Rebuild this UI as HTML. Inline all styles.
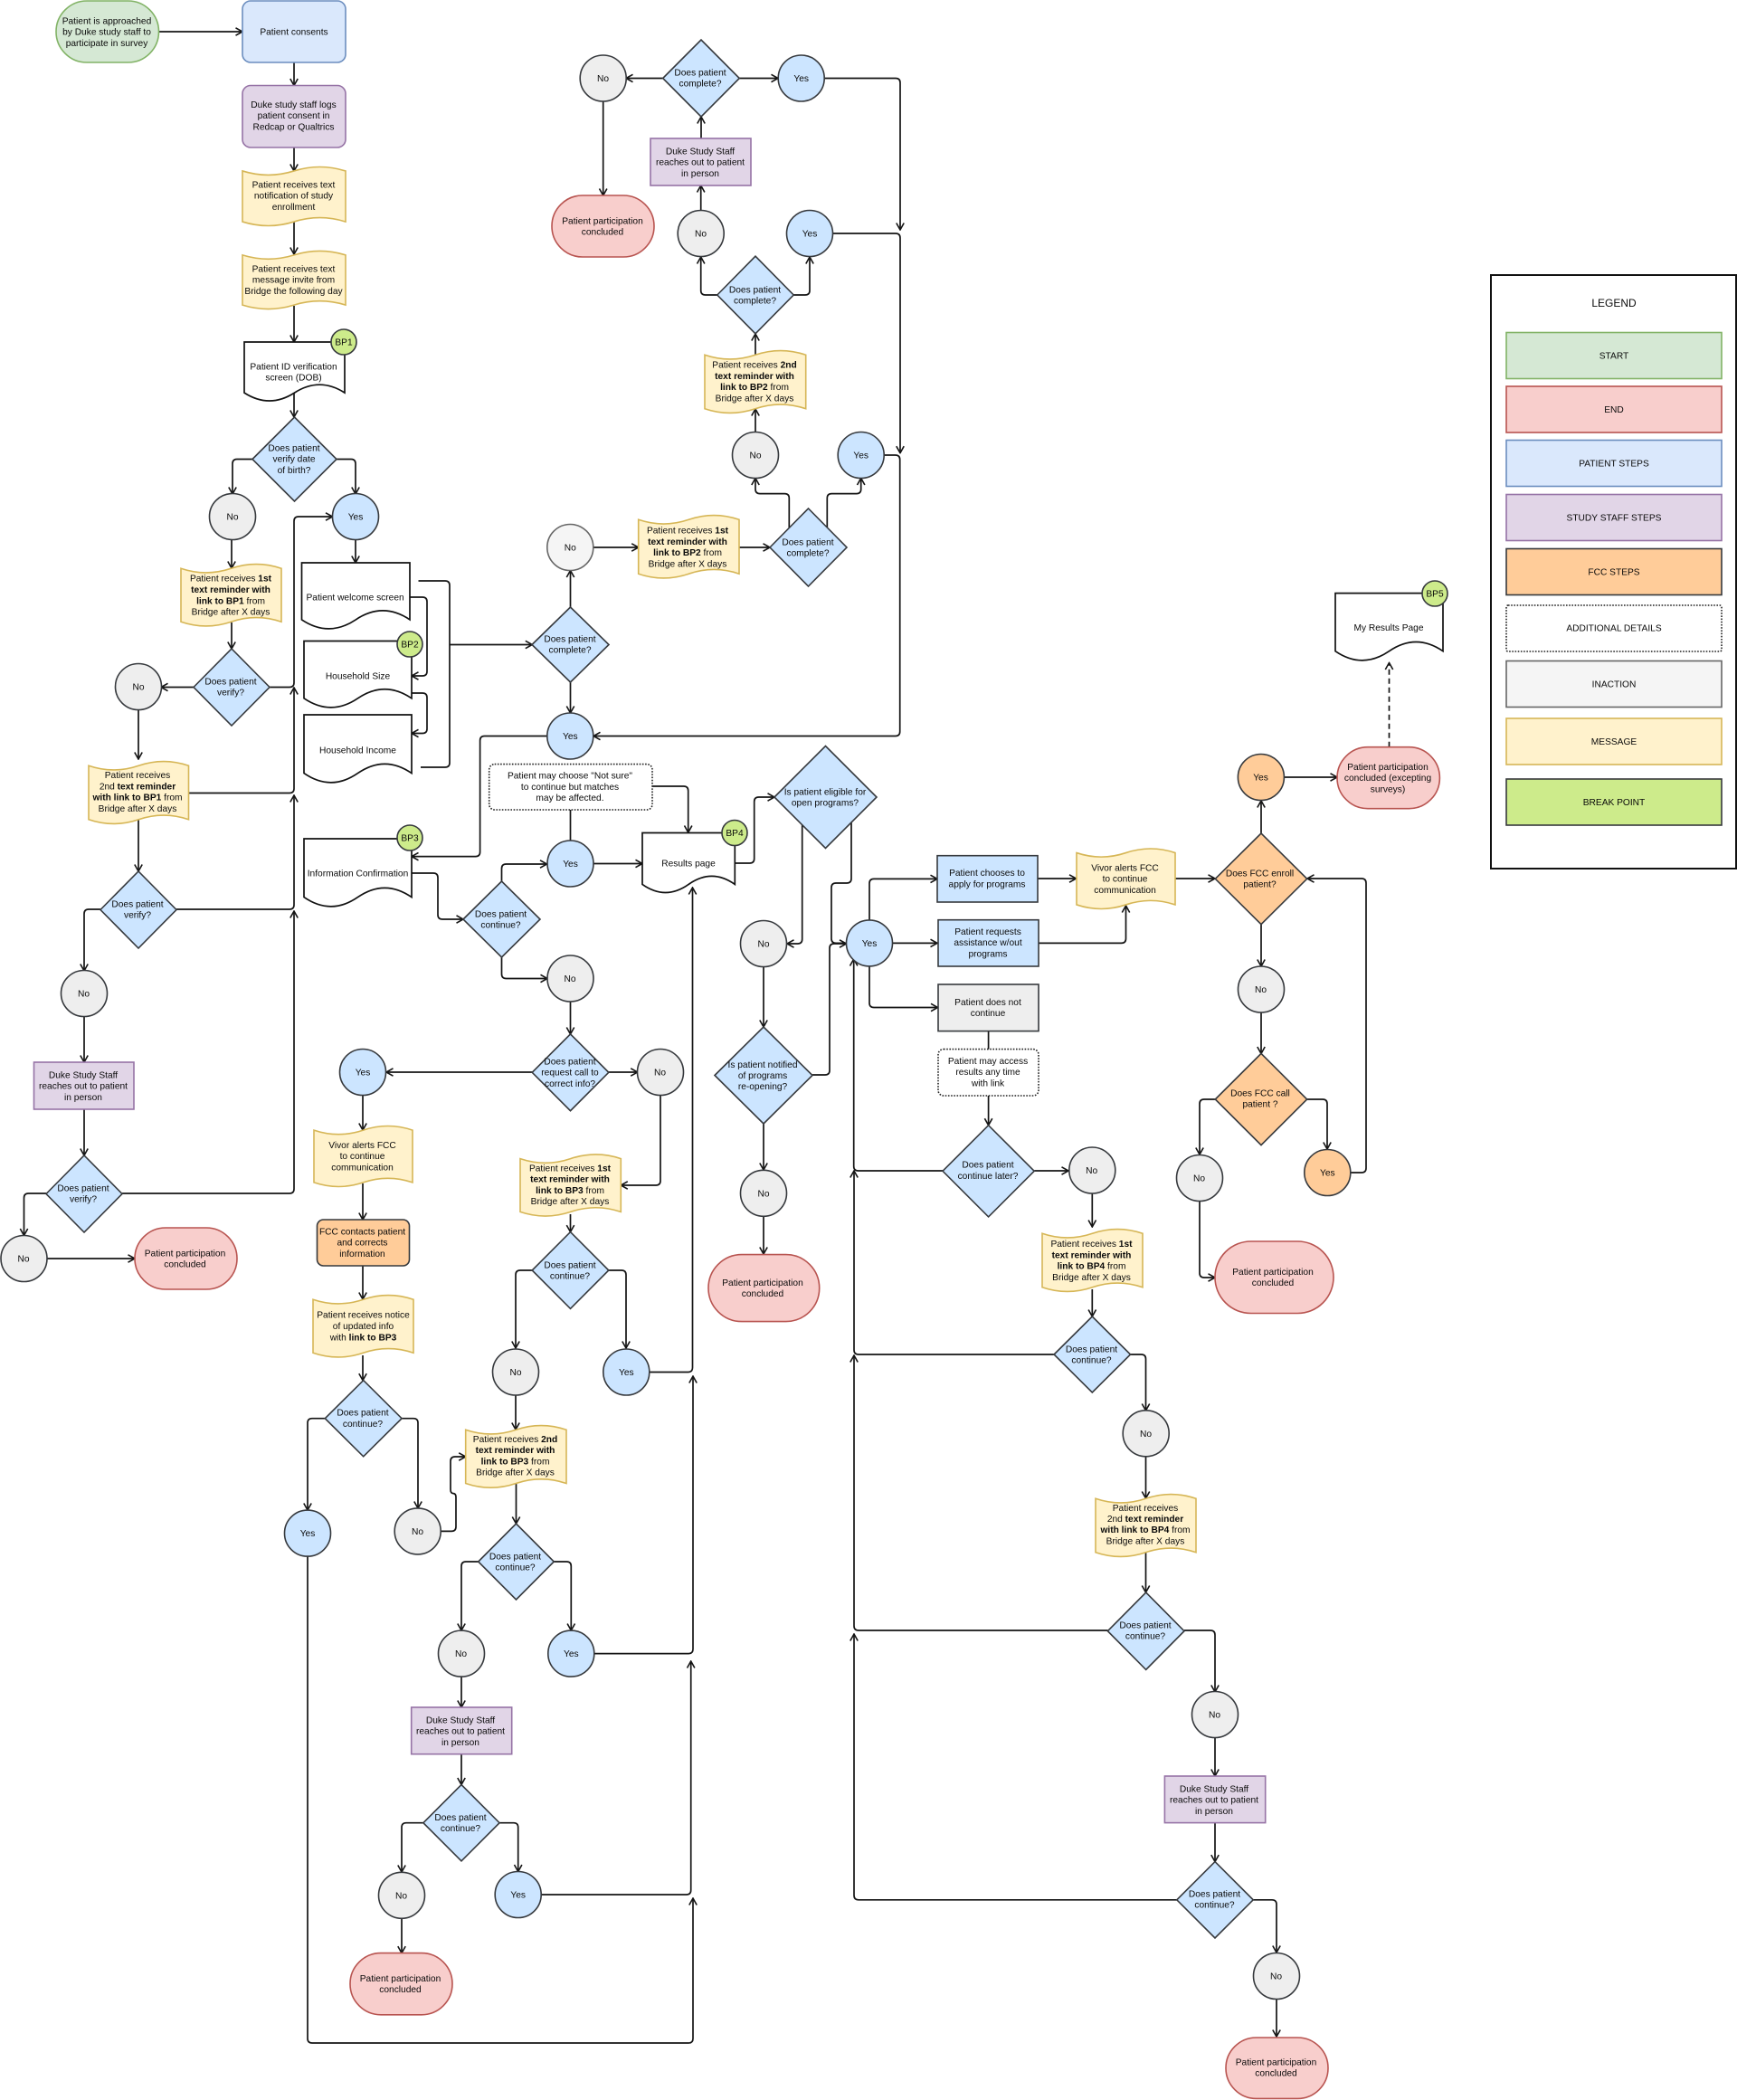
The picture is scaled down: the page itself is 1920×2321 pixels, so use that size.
<!DOCTYPE html>
<html lang="en"><head><meta charset="utf-8"><title>Patient flow diagram</title>
<style>
html,body{margin:0;padding:0;background:#fff}
svg{display:block}
text{font-family:"Liberation Sans",sans-serif;font-size:10.2px;text-anchor:middle;fill:#0a0a0a}
b,.bd{font-weight:bold}
.c path,path.c{fill:none;stroke:#141414;stroke-width:1.7}
.c path{marker-end:url(#a)}
.c path.n{marker-end:none}
.gy{fill:#eee;stroke:#36393d;stroke-width:1.6}
.in{fill:#f5f5f5;stroke:#666;stroke-width:1.6}
.bl{fill:#cce5ff;stroke:#36393d;stroke-width:1.6}
.or{fill:#fc9;stroke:#36393d;stroke-width:1.6}
.bp{fill:#cdeb8b;stroke:#36393d;stroke-width:1.6}
.ms{fill:#fff2cc;stroke:#d6b656;stroke-width:1.6}
.st{fill:#d5e8d4;stroke:#82b366;stroke-width:1.6}
.en{fill:#f8cecc;stroke:#b85450;stroke-width:1.6}
.pt{fill:#dae8fc;stroke:#6c8ebf;stroke-width:1.6}
.pu{fill:#e1d5e7;stroke:#9673a6;stroke-width:1.6}
.wh{fill:#fff;stroke:#111;stroke-width:1.7}
.dt{fill:#fff;stroke:#222;stroke-width:1.6;stroke-dasharray:1.6 1.6}
</style></head><body>
<svg xmlns="http://www.w3.org/2000/svg" width="1920" height="2321" viewBox="0 0 1920 2321">
<defs>
<marker id="a" viewBox="0 0 10 10" refX="9" refY="5" markerWidth="10" markerHeight="10" markerUnits="userSpaceOnUse" orient="auto"><path d="M1.5 .8 L9 5 L1.5 9.2" fill="none" stroke="#141414" stroke-width="1.6"/></marker>
<path id="tape" vector-effect="non-scaling-stroke" d="M0 .075Q.25 .21 .5 .075T1 .075L1 .925Q.75 .79 .5 .925T0 .925Z"/>
<path id="doc" vector-effect="non-scaling-stroke" d="M0 0H1V.85Q.75 .58 .5 .85T0 .85Z"/>
<path id="dia" vector-effect="non-scaling-stroke" d="M-1 0L0 -1L1 0L0 1Z"/>
</defs>

<!-- connectors -->
<g class="c">
<path d="M175.5 35H268"/><path d="M325 69V94.5"/><path d="M325 163V189"/><path d="M325 245V281"/><path d="M325 338V378"/><path d="M325 430V461"/>
<path d="M279 507.5H262Q257 507.5 257 512.5V546"/><path d="M372 507.5H388Q393 507.5 393 512.5V546"/>
<path d="M256 596V628"/><path d="M256 688V717"/>
<path d="M298 759.5H320Q325 759.5 325 754.5V576Q325 571 330 571H367.5"/>
<path d="M214 759.5H178"/><path d="M153 784.5V839"/><path d="M153 905V963"/>
<path d="M208 876.5H320Q325 876.5 325 871.5V760"/>
<path d="M195 1005H320Q325 1005 325 1000V879"/>
<path d="M111 1005H98Q93 1005 93 1010V1073"/><path d="M93 1123V1174"/><path d="M93 1226V1277"/>
<path d="M135 1319H320Q325 1319 325 1314V1007"/>
<path d="M51 1319H31.5Q26.5 1319 26.5 1324V1365.5"/><path d="M52 1391H149"/>
<path d="M393 596V622"/>
<path d="M453 660H467Q472 660 472 665V742Q472 747 467 747H455"/>
<path d="M455 766H467Q472 766 472 771V805.5Q472 810.5 467 810.5H455"/>
<path class="n" d="M462.5 642H492Q497 642 497 647V843Q497 848 492 848H465"/>
<path d="M497 712.5H588.3"/>
<path d="M630.5 671V630.5"/><path d="M630.5 754V788"/><path d="M656 605H705.7"/><path d="M817 605H851"/>
<path d="M872.3 583V550.6Q872.3 545.6 867.3 545.6H840Q835 545.6 835 540.6V528.5"/>
<path d="M914.3 583V550.6Q914.3 545.6 919.3 545.6H946.7Q951.7 545.6 951.7 540.6V528.5"/>
<path d="M835 477.5V452"/><path d="M835 395V369"/>
<path d="M792.7 326H779.7Q774.7 326 774.7 321V284"/>
<path d="M877 326H890Q895 326 895 321V284"/>
<path d="M774.7 232.5V205"/><path d="M775 153V129"/><path d="M732.3 86.5H692"/><path d="M817 86.5H860"/><path d="M666.7 112V216"/>
<path d="M911 86.5H990Q995 86.5 995 91.5V254"/>
<path d="M920.7 258H990Q995 258 995 263V500.7"/>
<path d="M977 503H989.7Q994.7 503 994.7 508V808.5Q994.7 813.5 989.7 813.5H656"/>
<path d="M605 813.5H535.6Q530.6 813.5 530.6 818.5V941.6Q530.6 946.6 525.6 946.6H455"/>
<path d="M455 965H479Q484 965 484 970V1011Q484 1016 489 1016H512"/>
<path d="M554.5 974V960Q554.5 955 559.5 955H604.5"/>
<path d="M554.5 1058V1076.5Q554.5 1081.5 559.5 1081.5H605"/>
<path class="n" d="M630.5 895V929.5"/>
<path d="M721 869H755.7Q760.7 869 760.7 874V920"/>
<path d="M656.5 954.5H710"/>
<path d="M812 954H828.7Q833.7 954 833.7 949V886Q833.7 881 838.7 881H856"/>
<path d="M886.7 909V1038Q886.7 1043 881.7 1043H870"/>
<path class="n" d="M941 909V971Q941 976 936 976H924Q919 976 919 981V1037.4Q919 1042.4 924 1042.4H935"/>
<path d="M844 1068.5V1135"/>
<path d="M898 1188H912Q917 1188 917 1183V1048Q917 1043 922 1043H935.5"/>
<path d="M844 1242V1293"/><path d="M844 1344V1386"/>
<path d="M630.5 1107V1143"/><path d="M588.6 1185H427"/>
<path d="M401 1211V1249"/><path d="M401 1308V1348"/><path d="M401 1399V1436"/><path d="M401 1498V1525.6"/>
<path d="M672.7 1185H704.7"/>
<path d="M730 1210.5V1305Q730 1310 725 1310H686.3"/>
<path d="M630.5 1342V1361.6"/>
<path d="M588 1404H575Q570 1404 570 1409V1490"/>
<path d="M672.7 1404H687Q692 1404 692 1409V1490"/>
<path d="M718 1516.5H760.5Q765.5 1516.5 765.5 1511.5V981"/>
<path d="M570 1542V1580"/><path d="M570.5 1640V1684"/>
<path d="M359.3 1567.7H345Q340 1567.7 340 1572.7V1669"/>
<path d="M444 1567.7H457Q462 1567.7 462 1572.7V1667"/>
<path d="M487 1692.4H499Q504 1692.4 504 1687.4V1655Q504 1650.6 501 1650.6Q498 1650.6 498 1646V1615Q498 1610 503 1610H514.7"/>
<path d="M340 1720V2253Q340 2258 345 2258H761Q766 2258 766 2253V2098"/>
<path d="M528.7 1726H515Q510 1726 510 1731V1802"/>
<path d="M612.3 1726H626.3Q631.3 1726 631.3 1731V1802"/>
<path d="M510 1853V1887"/><path d="M510 1938.7V1972.5"/>
<path d="M657 1827.6H761Q766 1827.6 766 1822.6V1521"/>
<path d="M468 2014.7H449Q444 2014.7 444 2019.7V2069"/>
<path d="M552.3 2014.7H567.7Q572.7 2014.7 572.7 2019.7V2068.5"/>
<path d="M598 2094H758.7Q763.7 2094 763.7 2089V1836"/>
<path d="M444 2120V2158.6"/>
<path d="M961 1017V976.4Q961 971.4 966 971.4H1036"/>
<path d="M986 1042.4H1036"/>
<path d="M961 1068V1108.5Q961 1113.5 966 1113.5H1036.5"/>
<path d="M1147 971H1189.5"/>
<path d="M1148 1042.4H1239.5Q1244.5 1042.4 1244.5 1037.4V1001"/>
<path d="M1299 971H1343"/>
<path class="n" d="M1092.6 1139.6V1159.6"/>
<path d="M1092.6 1211V1243.7"/>
<path d="M1042 1294H948.7Q943.7 1294 943.7 1289V1060"/>
<path d="M1143.3 1294H1181"/>
<path d="M1207.3 1319V1356"/><path d="M1207.3 1425V1455"/>
<path d="M1165 1497H949Q944 1497 944 1492V1294"/>
<path d="M1249.4 1497H1261.5Q1266.5 1497 1266.5 1502V1559"/>
<path d="M1266.5 1610V1656"/><path d="M1266.5 1716V1760"/>
<path d="M1224.5 1802H949Q944 1802 944 1797V1498"/>
<path d="M1309 1802H1338Q1343 1802 1343 1807V1870"/>
<path d="M1343 1921V1963"/><path d="M1343 2014.6V2057.6"/>
<path d="M1301 2099.8H949Q944 2099.8 944 2094.8V1806"/>
<path d="M1385.5 2099.8H1406Q1411 2099.8 1411 2104.8V2158"/>
<path d="M1411 2210V2251"/>
<path d="M1394 1021.6V1068"/><path d="M1394 1119V1164.5"/>
<path d="M1343 1215H1331Q1326 1215 1326 1220V1276"/>
<path d="M1326 1327.5V1407Q1326 1412 1331 1412H1343"/>
<path d="M1444.5 1215H1462Q1467 1215 1467 1220V1270"/>
<path d="M1493 1296H1505Q1510 1296 1510 1291V976Q1510 971 1505 971H1445"/>
<path d="M1394 921V885"/><path d="M1419 859H1478"/>
<path d="M1535.5 825.7V732.5" stroke-dasharray="6 4"/>
</g>

<!-- rect / terminator nodes -->
<rect class="st" x="62" y="1" width="113.5" height="68" rx="34"/>
<rect class="pt" x="268" y="1" width="114" height="68" rx="9"/>
<rect class="pu" x="268" y="94.5" width="114" height="68.5" rx="9"/>
<rect class="pu" x="37.5" y="1174" width="110.5" height="52"/>
<rect class="pu" x="719" y="153" width="111" height="52"/>
<rect class="pu" x="454.7" y="1887" width="111" height="51.7"/>
<rect class="pu" x="1287.4" y="1963" width="111.3" height="51.6"/>
<rect class="or" x="350.5" y="1348" width="102" height="51" rx="7"/>
<rect class="bl" x="1036" y="945.7" width="111" height="51.3"/>
<rect class="bl" x="1037" y="1016.7" width="111" height="51.3"/>
<rect class="gy" x="1037" y="1088" width="111" height="51.6"/>
<rect class="dt" x="540.7" y="844.6" width="180.3" height="50.4" rx="6"/>
<rect class="dt" x="1037" y="1159.6" width="111" height="51.4" rx="6"/>
<rect class="en" x="149" y="1357" width="113" height="68" rx="34"/>
<rect class="en" x="610" y="216" width="113" height="68" rx="34"/>
<rect class="en" x="783" y="1386.6" width="122.7" height="74" rx="37"/>
<rect class="en" x="387" y="2158.6" width="113" height="68.2" rx="34"/>
<rect class="en" x="1343" y="1372" width="131" height="79.5" rx="39.7"/>
<rect class="en" x="1355" y="2252" width="113" height="67.4" rx="33.7"/>
<rect class="en" x="1478" y="825.7" width="113.4" height="68" rx="34"/>

<!-- tapes -->
<use href="#tape" class="ms" transform="translate(268,184) scale(114,66)"/>
<use href="#tape" class="ms" transform="translate(268,277) scale(114,65)"/>
<use href="#tape" class="ms" transform="translate(200,623) scale(111,69.5)"/>
<use href="#tape" class="ms" transform="translate(98,841) scale(110.5,70)"/>
<use href="#tape" class="ms" transform="translate(779,387) scale(111.7,70)"/>
<use href="#tape" class="ms" transform="translate(705.7,569) scale(111.3,70.5)"/>
<use href="#tape" class="ms" transform="translate(347,1244) scale(109,68)"/>
<use href="#tape" class="ms" transform="translate(346,1431) scale(111,69.5)"/>
<use href="#tape" class="ms" transform="translate(575,1275.4) scale(111.3,69.2)"/>
<use href="#tape" class="ms" transform="translate(514.7,1575) scale(111.3,69.7)"/>
<use href="#tape" class="ms" transform="translate(1190,937.5) scale(109,67.5)"/>
<use href="#tape" class="ms" transform="translate(1152,1358) scale(111,70)"/>
<use href="#tape" class="ms" transform="translate(1211,1651) scale(111,70)"/>

<!-- documents -->
<use href="#doc" class="wh" transform="translate(270,378) scale(111,66)"/>
<use href="#doc" class="wh" transform="translate(333.5,622) scale(119.5,74)"/>
<use href="#doc" class="wh" transform="translate(336,708.5) scale(119,74.5)"/>
<use href="#doc" class="wh" transform="translate(336,790) scale(119,76)"/>
<use href="#doc" class="wh" transform="translate(336,927) scale(119,76)"/>
<use href="#doc" class="wh" transform="translate(710,920.5) scale(102.3,67)"/>
<use href="#doc" class="wh" transform="translate(1476,655.6) scale(119,75.4)"/>

<!-- diamonds: blue -->
<use href="#dia" class="bl" transform="translate(325.5,507.5) scale(46.5,46.5)"/>
<use href="#dia" class="bl" transform="translate(256,759.5) scale(42,42.5)"/>
<use href="#dia" class="bl" transform="translate(153,1005.5) scale(42,42.5)"/>
<use href="#dia" class="bl" transform="translate(93,1319.5) scale(42,42.5)"/>
<use href="#dia" class="bl" transform="translate(630.5,712.5) scale(42.5,41.5)"/>
<use href="#dia" class="bl" transform="translate(893.5,605) scale(42.5,43)"/>
<use href="#dia" class="bl" transform="translate(835,326) scale(42.2,42.8)"/>
<use href="#dia" class="bl" transform="translate(775,86.5) scale(42.3,42.5)"/>
<use href="#dia" class="bl" transform="translate(554.5,1016) scale(42.5,42)"/>
<use href="#dia" class="bl" transform="translate(912.5,881) scale(56.5,56.5)"/>
<use href="#dia" class="bl" transform="translate(844,1188.5) scale(54,53.5)"/>
<use href="#dia" class="bl" transform="translate(630.5,1185.3) scale(42.3,42.4)"/>
<use href="#dia" class="bl" transform="translate(630.5,1404) scale(42.3,42.4)"/>
<use href="#dia" class="bl" transform="translate(401.7,1567.7) scale(42.4,42.1)"/>
<use href="#dia" class="bl" transform="translate(570.5,1726) scale(41.8,42)"/>
<use href="#dia" class="bl" transform="translate(510,2014.7) scale(42.1,42.2)"/>
<use href="#dia" class="bl" transform="translate(1092.6,1294.3) scale(50.6,50.6)"/>
<use href="#dia" class="bl" transform="translate(1207.3,1497) scale(42.2,42)"/>
<use href="#dia" class="bl" transform="translate(1266.7,1802.7) scale(42.3,42.7)"/>
<use href="#dia" class="bl" transform="translate(1343,2099.8) scale(42.2,42.2)"/>
<!-- diamonds: orange -->
<use href="#dia" class="or" transform="translate(1394,971.3) scale(50.7,50.3)"/>
<use href="#dia" class="or" transform="translate(1394,1215) scale(50.7,50.6)"/>

<!-- circles -->
<circle class="gy" cx="257" cy="571" r="25.5"/>
<circle class="bl" cx="393" cy="571" r="25.5"/>
<circle class="gy" cx="153" cy="759" r="25.5"/>
<circle class="gy" cx="93" cy="1098" r="25.5"/>
<circle class="gy" cx="26.5" cy="1391" r="25.5"/>
<circle class="gy" cx="666.7" cy="86.5" r="25.5"/>
<circle class="bl" cx="885.7" cy="86.5" r="25.5"/>
<circle class="gy" cx="774.7" cy="258" r="25.5"/>
<circle class="bl" cx="895" cy="258" r="25.5"/>
<circle class="gy" cx="835" cy="503" r="25.5"/>
<circle class="bl" cx="951.7" cy="503" r="25.5"/>
<circle class="in" cx="630.3" cy="605" r="25.5"/>
<circle class="bl" cx="630.3" cy="813.5" r="25.5"/>
<circle class="bl" cx="630.5" cy="954.5" r="25.5"/>
<circle class="gy" cx="630.5" cy="1081.5" r="25.5"/>
<circle class="bl" cx="401" cy="1185" r="25.5"/>
<circle class="gy" cx="730" cy="1185" r="25.5"/>
<circle class="gy" cx="844" cy="1043" r="25.5"/>
<circle class="gy" cx="844" cy="1318.8" r="25.5"/>
<circle class="bl" cx="961" cy="1042.4" r="25.5"/>
<circle class="gy" cx="570" cy="1516.5" r="25.5"/>
<circle class="bl" cx="692.3" cy="1516.5" r="25.5"/>
<circle class="bl" cx="340" cy="1694.6" r="25.5"/>
<circle class="gy" cx="461.7" cy="1692.4" r="25.5"/>
<circle class="gy" cx="510" cy="1827.6" r="25.5"/>
<circle class="bl" cx="631.3" cy="1827.6" r="25.5"/>
<circle class="gy" cx="444" cy="2094.8" r="25.5"/>
<circle class="bl" cx="572.7" cy="2094" r="25.5"/>
<circle class="gy" cx="1207.3" cy="1293.5" r="25.5"/>
<circle class="gy" cx="1266.7" cy="1584.3" r="25.5"/>
<circle class="gy" cx="1343" cy="1895" r="25.5"/>
<circle class="gy" cx="1411" cy="2184" r="25.5"/>
<circle class="gy" cx="1394" cy="1093.5" r="25.5"/>
<circle class="gy" cx="1326" cy="1302" r="25.5"/>
<circle class="or" cx="1467.3" cy="1296" r="25.5"/>
<circle class="or" cx="1393.9" cy="859" r="25.5"/>
<!-- break points -->
<circle class="bp" cx="380" cy="378" r="14"/>
<circle class="bp" cx="453" cy="712" r="14"/>
<circle class="bp" cx="453" cy="926" r="14"/>
<circle class="bp" cx="812" cy="920.5" r="14"/>
<circle class="bp" cx="1586" cy="656" r="14"/>

<!-- legend -->
<rect x="1648" y="304" width="271" height="656" fill="#fff" stroke="#111" stroke-width="2"/>
<rect class="st" x="1665" y="367.5" width="238" height="51"/>
<rect class="en" x="1665" y="427" width="238" height="51"/>
<rect class="pt" x="1665" y="486.5" width="238" height="51"/>
<rect class="pu" x="1665" y="546.5" width="238" height="51"/>
<rect class="or" x="1665" y="606.5" width="238" height="51"/>
<rect class="dt" x="1665" y="669" width="238" height="51" rx="2"/>
<rect class="in" x="1665" y="730.5" width="238" height="51"/>
<rect class="ms" x="1665" y="794" width="238" height="51"/>
<rect class="bp" x="1665" y="861" width="238" height="51"/>
<text x="1784" y="339" style="font-size:12px">LEGEND</text>
<text x="1784" y="396.5">START</text>
<text x="1784" y="456">END</text>
<text x="1784" y="515.5">PATIENT STEPS</text>
<text x="1784" y="575.5">STUDY STAFF STEPS</text>
<text x="1784" y="635.5">FCC STEPS</text>
<text x="1784" y="697.5">ADDITIONAL DETAILS</text>
<text x="1784" y="759.5">INACTION</text>
<text x="1784" y="823">MESSAGE</text>
<text x="1784" y="890">BREAK POINT</text>

<!-- labels -->
<text x="118" y="26.4">Patient is approached<tspan x="118" dy="12.2">by Duke study staff to</tspan><tspan x="118" dy="12.2">participate in survey</tspan></text>
<text x="325" y="38.6">Patient consents</text>
<text x="324.5" y="119">Duke study staff logs<tspan x="324.5" dy="12.2">patient consent in</tspan><tspan x="324.5" dy="12.2">Redcap or Qualtrics</tspan></text>
<text x="324.5" y="207.4">Patient receives text<tspan x="324.5" dy="12.2">notification of study</tspan><tspan x="324.5" dy="12.2">enrollment</tspan></text>
<text x="324.5" y="300.4">Patient receives text<tspan x="324.5" dy="12.2">message invite from</tspan><tspan x="324.5" dy="12.2">Bridge the following day</tspan></text>
<text x="380" y="381.6">BP1</text>
<text x="324.5" y="408.5">Patient ID verification<tspan x="324.5" dy="12.2">screen (DOB)</tspan></text>
<text x="325" y="498.4">Does patient<tspan x="325" dy="12.2">verify date</tspan><tspan x="325" dy="12.2">of birth?</tspan></text>
<text x="257" y="574.6">No</text><text x="393" y="574.6">Yes</text>
<text x="255" y="642.7">Patient receives <tspan class="bd">1st</tspan><tspan x="255" dy="12.3" class="bd">text reminder with</tspan><tspan x="255" dy="12.3"><tspan class="bd">link to BP1</tspan> from</tspan><tspan x="255" dy="12.3">Bridge after X days</tspan></text>
<text x="255" y="756.5">Does patient<tspan x="255" dy="12.2">verify?</tspan></text>
<text x="153" y="762.6">No</text>
<text x="392.6" y="663.6">Patient welcome screen</text>
<text x="453" y="715.6">BP2</text>
<text x="395.5" y="750.6">Household Size</text>
<text x="395.5" y="832.6">Household Income</text>
<text x="152" y="860.2">Patient receives<tspan x="152" dy="12.2">2nd <tspan class="bd">text reminder</tspan></tspan><tspan x="152" dy="12.2"><tspan class="bd">with link to BP1</tspan> from</tspan><tspan x="152" dy="12.2">Bridge after X days</tspan></text>
<text x="152" y="1002.5">Does patient<tspan x="152" dy="12.2">verify?</tspan></text>
<text x="92.5" y="1101.6">No</text>
<text x="92" y="1191.4">Duke Study Staff<tspan x="92" dy="12.2">reaches out to patient</tspan><tspan x="92" dy="12.2">in person</tspan></text>
<text x="92" y="1316.5">Does patient<tspan x="92" dy="12.2">verify?</tspan></text>
<text x="26" y="1394.6">No</text>
<text x="204.5" y="1388.5">Patient participation<tspan x="204.5" dy="12.2">concluded</tspan></text>
<text x="666.5" y="90">No</text>
<text x="774" y="83.5">Does patient<tspan x="774" dy="12.2">complete?</tspan></text>
<text x="885.7" y="90">Yes</text>
<text x="774" y="170.5">Duke Study Staff<tspan x="774" dy="12.2">reaches out to patient</tspan><tspan x="774" dy="12.2">in person</tspan></text>
<text x="666" y="247.5">Patient participation<tspan x="666" dy="12.2">concluded</tspan></text>
<text x="774.5" y="261.6">No</text><text x="895" y="261.6">Yes</text>
<text x="834.5" y="323.5">Does patient<tspan x="834.5" dy="12.2">complete?</tspan></text>
<text x="834" y="406.5">Patient receives <tspan class="bd">2nd</tspan><tspan x="834" dy="12.3" class="bd">text reminder with</tspan><tspan x="834" dy="12.3"><tspan class="bd">link to BP2</tspan> from</tspan><tspan x="834" dy="12.3">Bridge after X days</tspan></text>
<text x="835" y="506.6">No</text><text x="951.7" y="506.6">Yes</text>
<text x="760" y="589.5">Patient receives <tspan class="bd">1st</tspan><tspan x="760" dy="12.3" class="bd">text reminder with</tspan><tspan x="760" dy="12.3"><tspan class="bd">link to BP2</tspan> from</tspan><tspan x="760" dy="12.3">Bridge after X days</tspan></text>
<text x="630.3" y="608.6">No</text>
<text x="893" y="602.5">Does patient<tspan x="893" dy="12.2">complete?</tspan></text>
<text x="630" y="709.5">Does patient<tspan x="630" dy="12.2">complete?</tspan></text>
<text x="630.3" y="817">Yes</text>
<text x="630" y="860.6">Patient may choose "Not sure"<tspan x="630" dy="12.2">to continue but matches</tspan><tspan x="630" dy="12.2">may be affected.</tspan></text>
<text x="630.5" y="958">Yes</text>
<text x="761" y="957.6">Results page</text>
<text x="812" y="924">BP4</text>
<text x="912" y="878.5">Is patient eligible for<tspan x="912" dy="12.2">open programs?</tspan></text>
<text x="453" y="929.6">BP3</text>
<text x="395.5" y="968.6">Information Confirmation</text>
<text x="553.5" y="1013.5">Does patient<tspan x="553.5" dy="12.2">continue?</tspan></text>
<text x="630" y="1085">No</text>
<text x="844" y="1046.6">No</text>
<text x="630" y="1176.5">Does patient<tspan x="630" dy="12.2">request call to</tspan><tspan x="630" dy="12.2">correct info?</tspan></text>
<text x="401" y="1188.6">Yes</text><text x="729.5" y="1188.6">No</text>
<text x="843" y="1179.8">Is patient notified<tspan x="843" dy="12.2">of programs</tspan><tspan x="843" dy="12.2">re-opening?</tspan></text>
<text x="844" y="1322.4">No</text>
<text x="843" y="1420.8">Patient participation<tspan x="843" dy="12.2">concluded</tspan></text>
<text x="400.5" y="1269">Vivor alerts FCC<tspan x="400.5" dy="12.2">to continue</tspan><tspan x="400.5" dy="12.2">communication</tspan></text>
<text x="400.5" y="1364.5">FCC contacts patient<tspan x="400.5" dy="12.2">and corrects</tspan><tspan x="400.5" dy="12.2">information</tspan></text>
<text x="401.5" y="1456.7">Patient receives notice<tspan x="401.5" dy="12.4">of updated info</tspan><tspan x="401.5" dy="12.4">with <tspan class="bd">link to BP3</tspan></tspan></text>
<text x="630" y="1294.5">Patient receives <tspan class="bd">1st</tspan><tspan x="630" dy="12.2" class="bd">text reminder with</tspan><tspan x="630" dy="12.2"><tspan class="bd">link to BP3</tspan> from</tspan><tspan x="630" dy="12.2">Bridge after X days</tspan></text>
<text x="630" y="1401.5">Does patient<tspan x="630" dy="12.2">continue?</tspan></text>
<text x="570" y="1520">No</text><text x="692.3" y="1520">Yes</text>
<text x="401" y="1564.7">Does patient<tspan x="401" dy="12.2">continue?</tspan></text>
<text x="569.5" y="1594">Patient receives <tspan class="bd">2nd</tspan><tspan x="569.5" dy="12.2" class="bd">text reminder with</tspan><tspan x="569.5" dy="12.2"><tspan class="bd">link to BP3</tspan> from</tspan><tspan x="569.5" dy="12.2">Bridge after X days</tspan></text>
<text x="340" y="1698">Yes</text><text x="461.5" y="1696">No</text>
<text x="569.5" y="1723.5">Does patient<tspan x="569.5" dy="12.2">continue?</tspan></text>
<text x="509.5" y="1831.2">No</text><text x="631.3" y="1831.2">Yes</text>
<text x="509" y="1904.5">Duke Study Staff<tspan x="509" dy="12.2">reaches out to patient</tspan><tspan x="509" dy="12.2">in person</tspan></text>
<text x="509" y="2012">Does patient<tspan x="509" dy="12.2">continue?</tspan></text>
<text x="443.5" y="2098.4">No</text><text x="572.7" y="2097.6">Yes</text>
<text x="442.5" y="2189.8">Patient participation<tspan x="442.5" dy="12.2">concluded</tspan></text>
<text x="961" y="1046">Yes</text>
<text x="1091" y="968.2">Patient chooses to<tspan x="1091" dy="12.2">apply for programs</tspan></text>
<text x="1092" y="1033">Patient requests<tspan x="1092" dy="12.2">assistance w/out</tspan><tspan x="1092" dy="12.2">programs</tspan></text>
<text x="1092" y="1110.8">Patient does not<tspan x="1092" dy="12.2">continue</tspan></text>
<text x="1092" y="1176">Patient may access<tspan x="1092" dy="12.2">results any time</tspan><tspan x="1092" dy="12.2">with link</tspan></text>
<text x="1243.5" y="962.5">Vivor alerts FCC<tspan x="1243.5" dy="12.2">to continue</tspan><tspan x="1243.5" dy="12.2">communication</tspan></text>
<text x="1392.5" y="968.5">Does FCC enroll<tspan x="1392.5" dy="12.2">patient?</tspan></text>
<text x="1393.5" y="1097">No</text>
<text x="1393" y="1211.5">Does FCC call<tspan x="1393" dy="12.2">patient ?</tspan></text>
<text x="1092" y="1290.7">Does patient<tspan x="1092" dy="12.2">continue later?</tspan></text>
<text x="1206.7" y="1297">No</text>
<text x="1325.5" y="1305.6">No</text><text x="1467.3" y="1299.6">Yes</text>
<text x="1206.5" y="1378">Patient receives <tspan class="bd">1st</tspan><tspan x="1206.5" dy="12.3" class="bd">text reminder with</tspan><tspan x="1206.5" dy="12.3"><tspan class="bd">link to BP4</tspan> from</tspan><tspan x="1206.5" dy="12.3">Bridge after X days</tspan></text>
<text x="1206.5" y="1494.5">Does patient<tspan x="1206.5" dy="12.2">continue?</tspan></text>
<text x="1407" y="1409">Patient participation<tspan x="1407" dy="12.2">concluded</tspan></text>
<text x="1266.5" y="1587.8">No</text>
<text x="1266" y="1670">Patient receives<tspan x="1266" dy="12.1">2nd <tspan class="bd">text reminder</tspan></tspan><tspan x="1266" dy="12.1"><tspan class="bd">with link to BP4</tspan> from</tspan><tspan x="1266" dy="12.1">Bridge after X days</tspan></text>
<text x="1266" y="1799.5">Does patient<tspan x="1266" dy="12.2">continue?</tspan></text>
<text x="1342.5" y="1898.6">No</text>
<text x="1342" y="1980.5">Duke Study Staff<tspan x="1342" dy="12.2">reaches out to patient</tspan><tspan x="1342" dy="12.2">in person</tspan></text>
<text x="1342.5" y="2096.5">Does patient<tspan x="1342.5" dy="12.2">continue?</tspan></text>
<text x="1410.5" y="2187.6">No</text>
<text x="1410.5" y="2282.5">Patient participation<tspan x="1410.5" dy="12.2">concluded</tspan></text>
<text x="1393.5" y="862.6">Yes</text>
<text x="1534" y="851">Patient participation<tspan x="1534" dy="12.2">concluded (excepting</tspan><tspan x="1534" dy="12.2">surveys)</tspan></text>
<text x="1586" y="659.6">BP5</text>
<text x="1535" y="697">My Results Page</text>
</svg>
</body></html>
